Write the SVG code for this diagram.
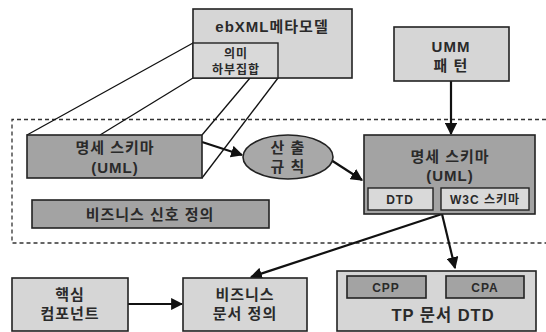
<svg xmlns="http://www.w3.org/2000/svg" width="546" height="332" viewBox="0 0 546 332">
<defs>
<style>
.lt{fill:#d6d6d6;stroke:#222;stroke-width:1.6}
.dk{fill:#a3a3a3;stroke:#222;stroke-width:1.6}
.in{fill:#d9d9d9;stroke:#222;stroke-width:1.4}
.t{font-family:"Liberation Sans","Noto Sans CJK KR",sans-serif;font-weight:bold;fill:#2a2a2a;text-anchor:middle}
.b{font-size:15px;letter-spacing:1px}
.s{font-size:12px;letter-spacing:1px}
.ln{stroke:#111;stroke-width:1.3;fill:none}
.ar{stroke:#111;stroke-width:2.2;fill:none;marker-end:url(#ah)}
</style>
<marker id="ah" viewBox="0 0 10 10" refX="9" refY="5" markerWidth="5.5" markerHeight="5.5" orient="auto" markerUnits="strokeWidth">
<path d="M0,0 L10,5 L0,10 z" fill="#111"/>
</marker>
</defs>
<rect width="546" height="332" fill="#fff"/>
<g id="boundary">
<path d="M546,119.5 H12 V243 H546" fill="none" stroke="#333" stroke-width="1.3" stroke-dasharray="4,3"/>
</g>
<g id="connectors">
<line class="ln" x1="193" y1="43" x2="27" y2="135"/>
<line class="ln" x1="193" y1="78" x2="100" y2="135"/>
<line class="ln" x1="250" y1="78" x2="202" y2="135"/>
<line class="ln" x1="278" y1="78" x2="202" y2="178"/>
<line class="ar" x1="451" y1="81" x2="451" y2="134"/>
<line class="ar" x1="202" y1="142" x2="242" y2="155"/>
<line class="ar" x1="331" y1="160" x2="362" y2="180"/>
<line class="ar" x1="442" y1="214" x2="251" y2="277"/>
<line class="ar" x1="442" y1="214" x2="455" y2="268"/>
<line class="ar" x1="128" y1="304" x2="182" y2="304"/>
</g>
<g id="ebxml">
<rect class="lt" x="193" y="9" width="159" height="69"/>
<text class="t b" x="272" y="32">ebXML메타모델</text>
<rect class="in" x="193" y="43" width="85" height="35"/>
<text class="t s" x="236" y="58">의미</text>
<text class="t s" x="236" y="74">하부집합</text>
</g>
<g id="umm">
<rect class="lt" x="394" y="27" width="115" height="54"/>
<text class="t b" x="451" y="52">UMM</text>
<text class="t b" x="451" y="71">패  턴</text>
</g>
<g id="spec-left">
<rect class="dk" x="27" y="135" width="175" height="43"/>
<text class="t b" x="115" y="153">명세 스키마</text>
<text class="t b" x="115" y="173">(UML)</text>
</g>
<g id="rule">
<ellipse cx="288" cy="157" rx="45" ry="22" fill="#a8a8a8" stroke="#222" stroke-width="1.6"/>
<text class="t b" x="288" y="153">산 출</text>
<text class="t b" x="288" y="172">규 칙</text>
</g>
<g id="signal">
<rect class="dk" x="32" y="200" width="237" height="28"/>
<text class="t b" x="150" y="220">비즈니스 신호 정의</text>
</g>
<g id="spec-right">
<rect class="dk" x="364" y="135" width="171" height="79"/>
<text class="t b" x="450" y="162">명세 스키마</text>
<text class="t b" x="450" y="181">(UML)</text>
<rect class="in" x="368" y="188" width="65" height="22"/>
<text class="t s" x="400" y="204">DTD</text>
<rect class="in" x="441" y="188" width="88" height="22"/>
<text class="t s" x="485" y="204">W3C 스키마</text>
</g>
<g id="core">
<rect class="lt" x="12" y="278" width="116" height="53"/>
<text class="t b" x="70" y="300">핵심</text>
<text class="t b" x="70" y="319">컴포넌트</text>
</g>
<g id="bizdoc">
<rect class="lt" x="183" y="278" width="124" height="53"/>
<text class="t b" x="245" y="300">비즈니스</text>
<text class="t b" x="245" y="319">문서 정의</text>
</g>
<g id="tp">
<rect class="lt" x="337" y="271" width="199" height="60"/>
<rect class="dk" x="347" y="276" width="79" height="22" stroke-width="1.4"/>
<text class="t s" x="386" y="292">CPP</text>
<rect class="dk" x="446" y="276" width="78" height="22" stroke-width="1.4"/>
<text class="t s" x="485" y="292">CPA</text>
<text class="t b" x="443" y="321" style="font-size:16.5px">TP 문서 DTD</text>
</g>
</svg>
